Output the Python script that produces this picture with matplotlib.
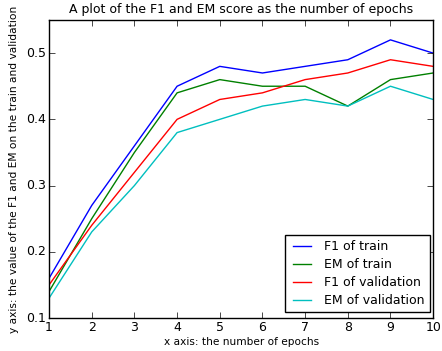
import numpy as np
import matplotlib
matplotlib.use("Agg")
import matplotlib.pyplot as plt

# =========================================================
# DATA
# =========================================================

epochs = [1, 2, 3, 4, 5, 6, 7, 8, 9, 10]

f1_train = [0.16, 0.27, 0.36, 0.45, 0.48, 0.47, 0.48, 0.49, 0.52, 0.50]
em_train = [0.14, 0.25, 0.35, 0.44, 0.46, 0.45, 0.45, 0.42, 0.46, 0.47]
f1_val = [0.15, 0.24, 0.32, 0.40, 0.43, 0.44, 0.46, 0.47, 0.49, 0.48]
em_val = [0.13, 0.23, 0.30, 0.38, 0.40, 0.42, 0.43, 0.42, 0.45, 0.43]

# =========================================================
# PLOT
# =========================================================

plt.style.use("classic")

fig = plt.figure(figsize=(4.42, 3.51), dpi=100)
ax = fig.add_axes([0.111, 0.094, 0.869, 0.849])

ax.plot(epochs, f1_train, color="b", label="F1 of train")
ax.plot(epochs, em_train, color="g", label="EM of train")
ax.plot(epochs, f1_val, color="r", label="F1 of validation")
ax.plot(epochs, em_val, color="c", label="EM of validation")

ax.set_xlim(1, 10)
ax.set_ylim(0.1, 0.55)
ax.set_yticks([0.1, 0.2, 0.3, 0.4, 0.5])
ax.tick_params(labelsize=9, pad=2)

ax.set_title("A plot of the F1 and EM score as the number of epochs", fontsize=9)
ax.set_xlabel("x axis: the number of epochs", fontsize=7.6, labelpad=2)
ax.set_ylabel("y axis: the value of the F1 and EM on the train and validation", fontsize=7.7)

ax.legend(loc="lower right", fontsize=9, labelspacing=0.4,
          bbox_to_anchor=(430 / 442, 39 / 351),
          bbox_transform=fig.transFigure, borderaxespad=0)

fig.savefig("out.png", dpi=100)
